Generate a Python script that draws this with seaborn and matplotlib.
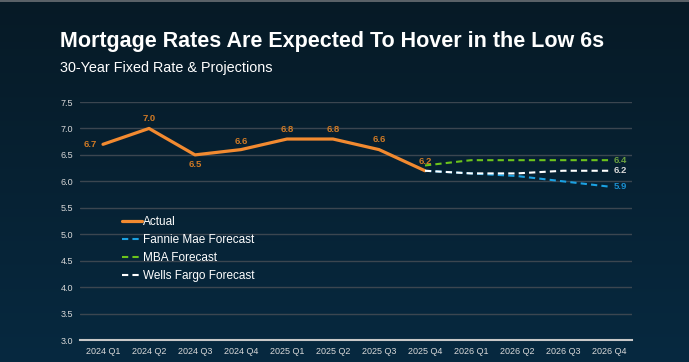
import numpy as np
import pandas as pd
import seaborn as sns
import matplotlib.pyplot as plt

# quarters on the x axis
quarters = ["2024 Q1", "2024 Q2", "2024 Q3", "2024 Q4",
            "2025 Q1", "2025 Q2", "2025 Q3", "2025 Q4",
            "2026 Q1", "2026 Q2", "2026 Q3", "2026 Q4"]

actual = [6.7, 7.0, 6.5, 6.6, 6.8, 6.8, 6.6, 6.2]
forecast_quarters = quarters[7:]
fannie = [6.2, 6.15, 6.1, 6.0, 5.9]
mba = [6.3, 6.4, 6.4, 6.4, 6.4]
wells = [6.2, 6.15, 6.15, 6.2, 6.2]

y_ticks = [3.0, 3.5, 4.0, 4.5, 5.0, 5.5, 6.0, 6.5, 7.0, 7.5]

sns.set_theme(style="white")
plt.rcParams['font.family'] = ['Liberation Sans', 'DejaVu Sans']

fig = plt.figure(figsize=(6.89, 3.62), dpi=100)

# background gradient
bg = fig.add_axes([0, 0, 1, 1], zorder=-10)
top_col = np.array([7, 26, 38]) / 255
bot_col = np.array([6, 41, 64]) / 255
t = np.linspace(0, 1, 256)[:, None]
grad = (top_col[None, :] * (1 - t) + bot_col[None, :] * t)[:, None, :]
bg.imshow(grad, aspect='auto', extent=[0, 1, 0, 1])
bg.axhline(0.998, color="#6a7075", lw=1.2)
bg.set_xlim(0, 1)
bg.set_ylim(0, 1)
bg.axis('off')

ax = fig.add_axes([80 / 689, 22 / 362, 552 / 689, 238 / 362])
ax.set_facecolor("none")

x_all = np.arange(len(quarters))
df_act = pd.DataFrame({"x": x_all[:len(actual)], "rate": actual})
x_fc = x_all[7:]
df_fan = pd.DataFrame({"x": x_fc, "rate": fannie})
df_mba = pd.DataFrame({"x": x_fc, "rate": mba})
df_wel = pd.DataFrame({"x": x_fc, "rate": wells})

orange = "#f28a30"
blue = "#1ba1e2"
green = "#6cc41c"
white = "#ffffff"

sns.lineplot(data=df_act, x="x", y="rate", ax=ax, color=orange, lw=2.3, label="Actual")
sns.lineplot(data=df_fan, x="x", y="rate", ax=ax, color=blue, lw=1.5, linestyle="--", label="Fannie Mae Forecast")
sns.lineplot(data=df_mba, x="x", y="rate", ax=ax, color=green, lw=1.5, linestyle="--", label="MBA Forecast")
sns.lineplot(data=df_wel, x="x", y="rate", ax=ax, color=white, lw=1.5, linestyle="--", label="Wells Fargo Forecast")
for ln in ax.lines[1:]:
    ln.set_dashes([3, 2])

ax.set_xlim(-0.5, len(quarters) - 0.5)
ax.set_ylim(3.0, 7.5)
ax.set_yticks(y_ticks)
ax.set_yticklabels([f"{v:.1f}" for v in y_ticks])
ax.set_xticks(x_all)
ax.set_xticklabels(quarters)
ax.set_xlabel("")
ax.set_ylabel("")
ax.tick_params(axis='both', length=0, labelsize=6.5, colors="#d9d9d9")
ax.tick_params(axis='y', pad=5)
ax.tick_params(axis='x', pad=5)
ax.grid(True, axis='y', color="#3b4650", lw=1)
ax.set_axisbelow(True)
for s in ["top", "left", "right"]:
    ax.spines[s].set_visible(False)
ax.spines["bottom"].set_color("#c8c8c8")
ax.spines["bottom"].set_linewidth(1.5)

# value labels for actual series
lab_col = "#d07a25"
offsets = [(-9, 0), (0, 7), (0, -7), (0, 6), (0, 7), (0, 7), (0, 7), (0, 7)]
for i, (v, off) in enumerate(zip(actual, offsets)):
    ax.annotate(f"{v:.1f}", (i, v), xytext=off, textcoords="offset points",
                ha="center", va="center", fontsize=6.8, fontweight="bold", color=lab_col)

# end labels for the forecasts
for vals, col in [(mba, "#6aa040"), (wells, "#d9d9d9"), (fannie, "#1a8fd0")]:
    ax.annotate(f"{vals[-1]:.1f}", (x_fc[-1], vals[-1]), xytext=(8, 0),
                textcoords="offset points", ha="center", va="center",
                fontsize=6.8, fontweight="bold", color=col)

leg = ax.legend(loc="upper left", bbox_to_anchor=(0.056, 0.564), frameon=False,
                fontsize=8.5, handlelength=1.7, handletextpad=0.15, labelspacing=0.5)
for txt in leg.get_texts():
    txt.set_color("white")

fig.text(60 / 689, 1 - 46.7 / 362, "Mortgage Rates Are Expected To Hover in the Low 6s",
         color="white", fontsize=15.5, fontweight="bold", va="baseline", ha="left")
fig.text(60 / 689, 1 - 71.7 / 362, "30-Year Fixed Rate & Projections",
         color="white", fontsize=10.4, va="baseline", ha="left")

fig.savefig("out.png", dpi=100)
